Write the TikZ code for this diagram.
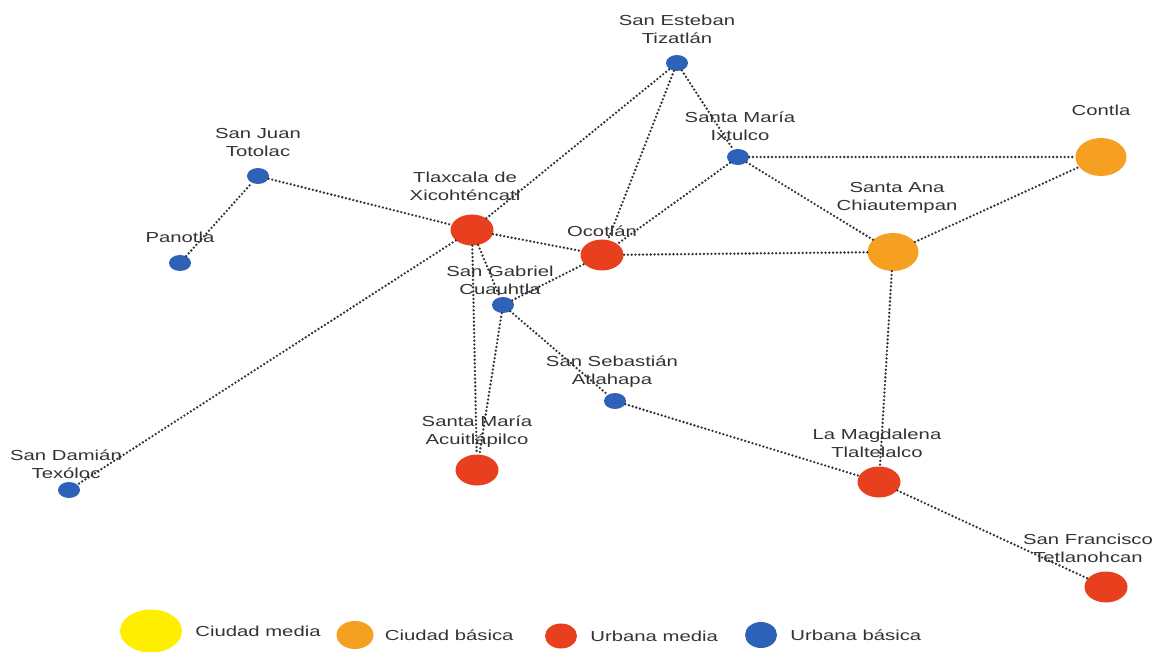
\documentclass[tikz,border=0pt]{standalone}
\usepackage{fontspec}
\setmainfont{Liberation Sans}[FakeStretch=1.4]
\usetikzlibrary{positioning, shapes.geometric}
\definecolor{ubblue}{HTML}{2E62B8}
\definecolor{umred}{HTML}{E8401E}
\definecolor{cborange}{HTML}{F5A020}
\definecolor{cmyellow}{HTML}{FFEE00}

\begin{document}
\begin{tikzpicture}[
    x=1pt, y=-1pt,
    lbl/.style={font=\fontsize{14.5}{18}\selectfont, text=black!80, align=center, inner sep=0pt},
    town/.style={draw=none, ellipse, inner sep=0pt},
    ub/.style={town, fill=ubblue, minimum width=22pt, minimum height=16pt},
    um/.style={town, fill=umred, minimum width=43pt, minimum height=31pt},
    cb/.style={town, fill=cborange, minimum width=51pt, minimum height=38pt},
    every edge/.style={draw=black!80, line width=2.6pt, line cap=round, dash pattern=on 0pt off 3.8pt}
]
\useasboundingbox (0,0) rectangle (1154,652);

% towns
\node[ub] (tizatlan) at (677,63) {};
\node[ub] (ixtulco) at (738,157) {};
\node[cb] (contla) at (1101,157) {};
\node[cb] (chiautempan) at (893,252) {};
\node[ub] (totolac) at (258,176) {};
\node[ub] (panotla) at (180,263) {};
\node[um] (tlaxcala) at (472,230) {};
\node[um] (ocotlan) at (602,255) {};
\node[ub] (cuauhtla) at (503,305) {};
\node[ub] (atlahapa) at (615,401) {};
\node[um] (acuitlapilco) at (477,470) {};
\node[um] (tlaltelolco) at (879,482) {};
\node[um] (tetlanohcan) at (1106,587) {};
\node[ub] (texoloc) at (69,490) {};

% names above the towns
\node[lbl, above=11pt of tizatlan] (l-tizatlan) {San Esteban\\Tizatlán};
\node[lbl, above=8pt of ixtulco, xshift=2pt] (l-ixtulco) {Santa María\\Ixtulco};
\node[lbl, above=22pt of contla] (l-contla) {Contla};
\node[lbl, above=19pt of chiautempan, xshift=4pt] (l-chiautempan) {Santa Ana\\Chiautempan};
\node[lbl, above=11pt of totolac] (l-totolac) {San Juan\\Totolac};
\node[lbl, above=12pt of panotla] (l-panotla) {Panotla};
\node[lbl, above=13pt of tlaxcala, xshift=-7pt] (l-tlaxcala) {Tlaxcala de\\Xicohténcatl};
\node[lbl, above=2pt of ocotlan] (l-ocotlan) {Ocotlán};
\node[lbl, above=2pt of cuauhtla, xshift=-3pt] (l-cuauhtla) {San Gabriel\\Cuauhtla};
\node[lbl, above=5pt of atlahapa, xshift=-3pt] (l-atlahapa) {San Sebastián\\Atlahapa};
\node[lbl, above=7pt of acuitlapilco] (l-acuitlapilco) {Santa María\\Acuitlápilco};
\node[lbl, above=8pt of tlaltelolco, xshift=-2pt] (l-tlaltelolco) {La Magdalena\\Tlaltelalco};
\node[lbl, above=8pt of tetlanohcan, xshift=-18pt] (l-tetlanohcan) {San Francisco\\Tetlanohcan};
\node[lbl, above=3pt of texoloc, xshift=-3pt] (l-texoloc) {San Damián\\Texóloc};

% links
\path (panotla) edge (totolac)
      (totolac) edge (tlaxcala)
      (tlaxcala) edge (tizatlan) edge (ocotlan) edge (texoloc)
                 edge (acuitlapilco) edge (cuauhtla)
      (tizatlan) edge (ocotlan) edge (ixtulco)
      (ixtulco) edge (contla) edge (chiautempan) edge (ocotlan)
      (chiautempan) edge (contla) edge (ocotlan) edge (tlaltelolco)
      (cuauhtla) edge (ocotlan) edge (atlahapa) edge (acuitlapilco)
      (atlahapa) edge (tlaltelolco)
      (tlaltelolco) edge (tetlanohcan);

% legend
\node[town, fill=cmyellow, minimum width=62pt, minimum height=43pt] (k-cm) at (151,631) {};
\node[lbl, right=13pt of k-cm] (k-cm-txt) {Ciudad media};
\node[town, fill=cborange, minimum width=37pt, minimum height=28pt] (k-cb) at (355,635) {};
\node[lbl, right=11pt of k-cb] (k-cb-txt) {Ciudad básica};
\node[town, fill=umred, minimum width=32pt, minimum height=25pt] (k-um) at (561,636) {};
\node[lbl, right=13pt of k-um] (k-um-txt) {Urbana media};
\node[town, fill=ubblue, minimum width=32pt, minimum height=26pt] (k-ub) at (761,635) {};
\node[lbl, right=13pt of k-ub] (k-ub-txt) {Urbana básica};

\end{tikzpicture}
\end{document}
